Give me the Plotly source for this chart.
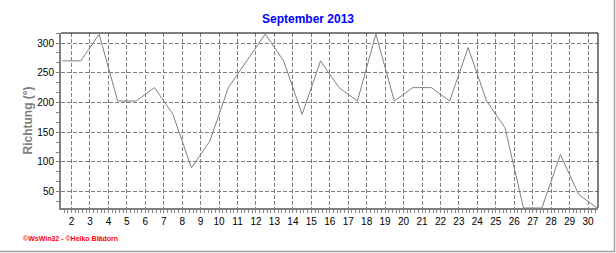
import plotly.graph_objects as go

# ---- data ----
days = list(range(1, 31))
direction = [270, 270, 315, 202.5, 202.5, 225, 180, 90, 135, 225,
             270, 315, 270, 180, 270, 225, 202.5, 315, 202.5, 225,
             225, 202.5, 292.5, 202.5, 157.5, 22.5, 22.5, 112.5, 45, 22.5]
x_ticks = list(range(2, 31))
y_ticks = [50, 100, 150, 200, 250, 300]
title_text = "September 2013"
y_title = "Richtung (°)"
footer = "©WsWin32 - ©Heiko Blädorn"

# daily values are drawn at mid-day
x_pos = [d + 0.5 for d in days]

W, H = 616, 253
L, R, T, B = 61, 18, 33, 45
pw, ph = W - L - R, H - T - B

def px(xp):
    return (xp - L) / pw

def py(yp):
    return (H - B - yp) / ph

GRAY = "#808080"
FONT = "Liberation Sans, Arial, sans-serif"

fig = go.Figure()
fig.add_trace(go.Scatter(x=x_pos, y=direction, mode="lines",
                         line=dict(color=GRAY, width=1), hoverinfo="skip",
                         showlegend=False))

fig.update_layout(
    width=W, height=H,
    margin=dict(l=L, r=R, t=T, b=B, pad=0),
    paper_bgcolor="white", plot_bgcolor="white",
    font=dict(family=FONT, size=10, color="black"),
    title=dict(text=f"<b>{title_text}</b>", x=0.5, xref="container", xanchor="center",
               y=1 - 19 / H, yref="container", yanchor="middle",
               font=dict(family=FONT, size=12, color="#0000FF")),
    showlegend=False,
)

fig.update_xaxes(
    range=[1.43, 30.54], tickmode="array", tickvals=x_ticks,
    ticktext=[str(v) for v in x_ticks],
    showgrid=True, gridcolor=GRAY, gridwidth=1, griddash="4px,2px",
    showline=True, linecolor=GRAY, linewidth=2,
    ticks="outside", ticklen=3, tickcolor=GRAY, tickwidth=1,
    minor=dict(dtick=0.2, tick0=2, ticks="outside", ticklen=3, tickcolor=GRAY, showgrid=False),
    tickfont=dict(size=10, color="black"), zeroline=False, fixedrange=True,
)
fig.update_yaxes(
    range=[22.5, 316.9], tickmode="array", tickvals=y_ticks,
    ticktext=[str(v) for v in y_ticks],
    showgrid=True, gridcolor=GRAY, gridwidth=1, griddash="4px,2px",
    showline=True, linecolor=GRAY, linewidth=2,
    ticks="outside", ticklen=3, tickcolor=GRAY, tickwidth=1,
    minor=dict(dtick=50 / 3, tick0=0, ticks="outside", ticklen=3, tickcolor=GRAY, showgrid=False),
    tickfont=dict(size=10, color="black"), zeroline=False, fixedrange=True,
)

# top / right black frame of plot area
fig.add_shape(type="line", xref="paper", yref="paper", x0=0, x1=1, y0=1, y1=1,
              line=dict(color="black", width=1))
fig.add_shape(type="line", xref="paper", yref="paper", x0=1, x1=1, y0=0, y1=1,
              line=dict(color="black", width=1))
# outer grey border (right + bottom)
fig.add_shape(type="line", xref="paper", yref="paper", x0=px(614.5), x1=px(614.5),
              y0=py(0), y1=py(252), line=dict(color="#A0A0A0", width=1.5))
fig.add_shape(type="line", xref="paper", yref="paper", x0=px(0), x1=px(615),
              y0=py(251.5), y1=py(251.5), line=dict(color="#A0A0A0", width=1.5))

fig.add_annotation(text=f"<b>{y_title}</b>", xref="paper", yref="paper",
                   x=px(27), y=0.5, xanchor="center", yanchor="middle",
                   textangle=-90, showarrow=False,
                   font=dict(family=FONT, size=12, color=GRAY))
fig.add_annotation(text=f"<b>{footer}</b>", xref="paper", yref="paper",
                   x=px(21), y=py(238.5), xanchor="left", yanchor="middle",
                   showarrow=False, font=dict(family=FONT, size=7, color="#FF0000"))

fig.write_html("out.html", config={"displayModeBar": False})
